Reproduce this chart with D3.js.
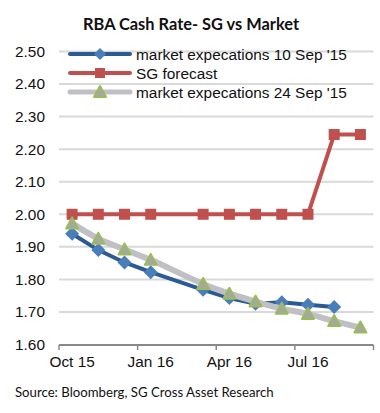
<!DOCTYPE html>
<html><head><meta charset="utf-8">
<script src="https://cdn.jsdelivr.net/npm/d3@7"></script>
<style>html,body{margin:0;padding:0;background:#fff;}svg{display:block;}</style>
</head><body>
<svg id="chart" width="380" height="413"></svg>
<script>
const months = ["Oct 15","Nov 15","Dec 15","Jan 16","Feb 16","Mar 16","Apr 16","May 16","Jun 16","Jul 16","Aug 16","Sep 16"];
const tickLabels = ["Oct 15","Jan 16","Apr 16","Jul 16"];
const yTicks = [1.6,1.7,1.8,1.9,2.0,2.1,2.2,2.3,2.4,2.5];
const market10Sep = [1.94,1.89,1.852,1.822,null,1.768,1.743,1.725,1.73,1.722,1.715,null];
const sgForecast = [2.00,2.00,2.00,2.00,null,2.00,2.00,2.00,2.00,2.00,2.245,2.245];
const market24Sep = [1.972,1.925,1.892,1.86,null,1.786,1.756,1.732,1.71,1.694,1.672,1.652];
const seriesNames = ["market expecations 10 Sep '15","SG forecast","market expecations 24 Sep '15"];

const svg = d3.select("#chart");
const x = d3.scaleBand().domain(months).range([59,373.5]);
const y = d3.scaleLinear().domain([1.6,2.5]).range([344.5,51.5]);
const cx = m => x(m) + x.bandwidth()/2;
const sans = "Liberation Sans, Arial";

// title
svg.append("text").attr("x",191).attr("y",30).attr("text-anchor","middle")
  .attr("font-family","Lato").attr("font-weight","bold").attr("font-size",16.4)
  .attr("fill","#111").text("RBA Cash Rate- SG vs Market");

// gridlines
svg.append("g").selectAll("line").data(yTicks.slice(1)).join("line")
  .attr("x1",59).attr("x2",373.5).attr("y1",d=>y(d)).attr("y2",d=>y(d))
  .attr("stroke","#d9d9d9").attr("stroke-width",2);

// y axis labels
const yAxis = d3.axisLeft(y).tickValues(yTicks).tickFormat(d3.format(".2f")).tickSize(0).tickPadding(0);
const gy = svg.append("g").attr("transform","translate(45,0)").call(yAxis);
gy.select(".domain").remove();
gy.selectAll("text").attr("font-family",sans).attr("font-size",15.4).attr("fill","#111");

// x axis
const xAxis = d3.axisBottom(x).tickValues(tickLabels).tickSize(0).tickPadding(11);
const gx = svg.append("g").attr("transform","translate(0,345)").call(xAxis);
gx.select(".domain").attr("stroke","#888").attr("stroke-width",2).attr("d","M59,0H373.5");
gx.selectAll("text").attr("font-family",sans).attr("font-size",15.4).attr("fill","#111");
const boundaries = months.filter((m,i)=>i%3===0).map(m=>x(m)).concat([373.5]);
gx.selectAll("line.tk").data(boundaries).join("line").attr("class","tk")
  .attr("x1",d=>d).attr("x2",d=>d).attr("y1",0).attr("y2",5)
  .attr("stroke","#888").attr("stroke-width",1.5);

function pts(vals){ return months.map((m,i)=>({m,v:vals[i]})).filter(d=>d.v!=null); }

const lineLin = d3.line().x(d=>cx(d.m)).y(d=>y(d.v));
const lineSmooth = d3.line().x(d=>cx(d.m)).y(d=>y(d.v)).curve(d3.curveCatmullRom.alpha(0.5));

const blueLine = "#2a5b94", blueMark = "#4a7ebb";
const red = "#c0504d";
const greyLine = "#c0c0c4", greyMark = "#a6a6a6", green = "#9bbb59";

function diamond(g, px, py, s){
  g.append("path").attr("d",`M${px},${py-s}L${px+s},${py}L${px},${py+s}L${px-s},${py}Z`).attr("fill",blueMark);
}
function square(g, px, py, s){
  g.append("rect").attr("x",px-s/2).attr("y",py-s/2).attr("width",s).attr("height",s).attr("fill",red);
}
function triangle(g, px, py){
  g.append("path").attr("d",`M${px},${py-6}L${px+6},${py+5}L${px-6},${py+5}Z`)
    .attr("fill",greyMark).attr("stroke",green).attr("stroke-width",2).attr("stroke-linejoin","round");
}

// red series
const gRed = svg.append("g");
gRed.append("path").datum(pts(sgForecast)).attr("d",lineLin).attr("fill","none").attr("stroke",red).attr("stroke-width",4);
pts(sgForecast).forEach(d=>square(gRed,cx(d.m),y(d.v),11));

// blue series
const gBlue = svg.append("g");
gBlue.append("path").datum(pts(market10Sep)).attr("d",lineLin).attr("fill","none").attr("stroke",blueLine).attr("stroke-width",4);
pts(market10Sep).forEach(d=>diamond(gBlue,cx(d.m),y(d.v),7));

// grey series
const gGrey = svg.append("g");
gGrey.append("path").datum(pts(market24Sep)).attr("d",lineSmooth).attr("fill","none").attr("stroke",greyLine).attr("stroke-width",6);
pts(market24Sep).forEach(d=>triangle(gGrey,cx(d.m),y(d.v)));

// legend
const leg = svg.append("g");
const legY = [54,73,92];
leg.append("line").attr("x1",70).attr("x2",130).attr("y1",legY[0]).attr("y2",legY[0]).attr("stroke",blueLine).attr("stroke-width",4).attr("stroke-linecap","round");
diamond(leg,100,legY[0],6);
leg.append("line").attr("x1",70).attr("x2",130).attr("y1",legY[1]).attr("y2",legY[1]).attr("stroke",red).attr("stroke-width",4).attr("stroke-linecap","round");
square(leg,100,legY[1],10);
leg.append("line").attr("x1",70).attr("x2",130).attr("y1",legY[2]).attr("y2",legY[2]).attr("stroke",greyLine).attr("stroke-width",5).attr("stroke-linecap","round");
triangle(leg,100,legY[2]);
leg.selectAll("text").data(seriesNames).join("text")
  .attr("x",136).attr("y",(d,i)=>legY[i]+5.8).attr("font-family",sans).attr("font-size",15.4)
  .attr("fill","#111").text(d=>d);

// source
svg.append("text").attr("x",15).attr("y",397).attr("font-family","Lato").attr("font-size",13.2)
  .attr("fill","#111").text("Source: Bloomberg, SG Cross Asset Research");
</script>
</body></html>
